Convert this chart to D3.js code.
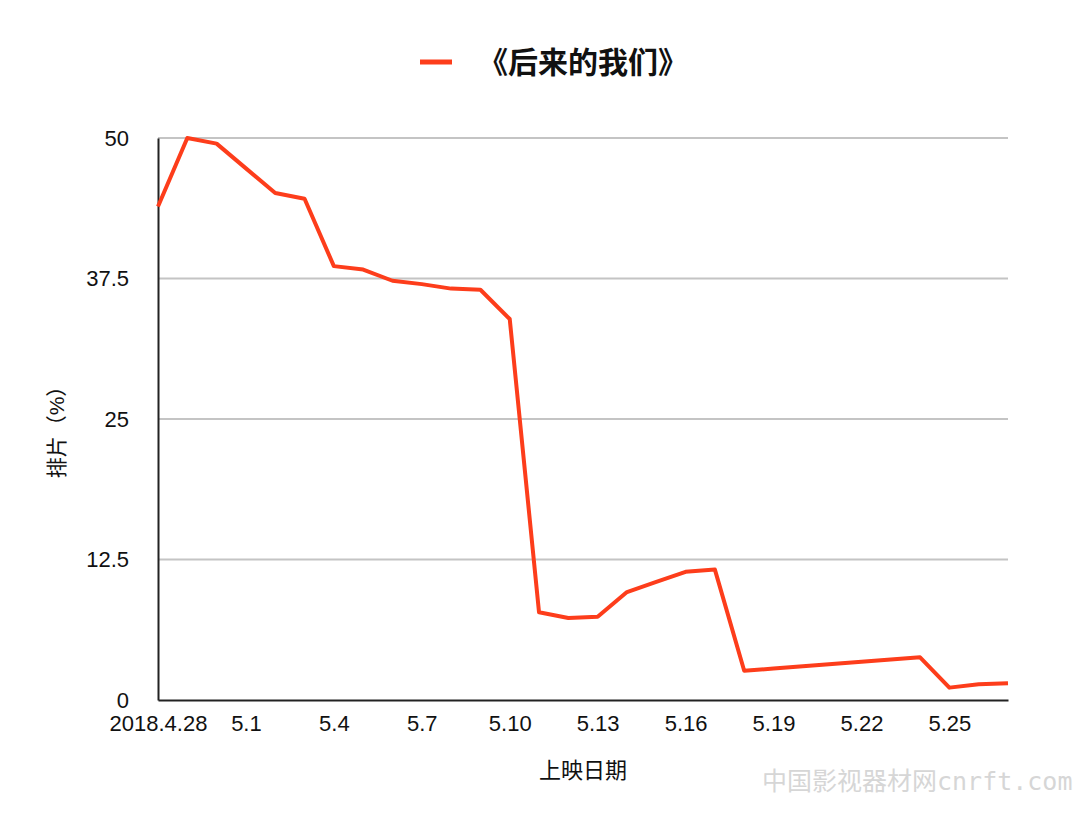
<!DOCTYPE html>
<html>
<head>
<meta charset="utf-8">
<script src="https://cdn.jsdelivr.net/npm/d3@7"></script>
<style>
  body { margin: 0; background: #fff; }
  svg { display: block; }
  text { font-family: "Liberation Sans", Arial, "Noto Sans CJK SC", sans-serif; }
</style>
</head>
<body>
<div id="chart"></div>
<script>
(function () {

    // series name and daily values (排片 %), 2018.4.28 - 5.27
    var seriesName = "《后来的我们》";
    var dates = ["2018.4.28", "4.29", "4.30", "5.1", "5.2", "5.3", "5.4", "5.5", "5.6", "5.7",
                 "5.8", "5.9", "5.10", "5.11", "5.12", "5.13", "5.14", "5.15", "5.16", "5.17",
                 "5.18", "5.19", "5.20", "5.21", "5.22", "5.23", "5.24", "5.25", "5.26", "5.27"];
    var values = [43.9, 50.0, 49.5, 47.3, 45.1, 44.6, 38.6, 38.3, 37.3, 37.0,
                  36.6, 36.5, 33.9, 7.8, 7.3, 7.4, 9.6, 10.5, 11.4, 11.6,
                  2.6, 2.8, 3.0, 3.2, 3.4, 3.6, 3.8, 1.1, 1.4, 1.5];
    var xTickLabels = ["2018.4.28", "5.1", "5.4", "5.7", "5.10", "5.13", "5.16", "5.19", "5.22", "5.25"];
    var yTicks = [0, 12.5, 25, 37.5, 50];

    var width = 1080, height = 827;
    var margin = { left: 158, right: 72, top: 138, bottom: 127 };
    var lineColor = "#fd3d1b";

    var svg = d3.select("#chart").append("svg")
        .attr("width", width)
        .attr("height", height);

    var x = d3.scalePoint()
        .domain(dates)
        .range([margin.left, width - margin.right]);

    var y = d3.scaleLinear()
        .domain([0, 50])
        .range([height - margin.bottom, margin.top]);

    //gridlines
    svg.append("g")
        .selectAll("line")
        .data(yTicks.filter(function (d) { return d > 0; }))
        .enter().append("line")
        .attr("x1", margin.left)
        .attr("x2", width - margin.right)
        .attr("y1", function (d) { return y(d); })
        .attr("y2", function (d) { return y(d); })
        .attr("stroke", "#c4c4c4")
        .attr("stroke-width", 2);

    //y axis
    var yAxis = svg.append("g")
        .attr("transform", "translate(" + margin.left + ",0)")
        .call(d3.axisLeft(y).tickValues(yTicks).tickSize(0).tickPadding(29)
            .tickFormat(function (d) { return String(d); }));
    yAxis.select(".domain").attr("stroke", "#222").attr("stroke-width", 2);
    yAxis.selectAll("text").attr("font-size", 22).attr("fill", "#111");

    //x axis
    var xAxis = svg.append("g")
        .attr("transform", "translate(0," + (height - margin.bottom) + ")")
        .call(d3.axisBottom(x).tickValues(xTickLabels).tickSize(0).tickPadding(15));
    xAxis.select(".domain").attr("stroke", "#222").attr("stroke-width", 2);
    xAxis.selectAll("text").attr("font-size", 22).attr("fill", "#111");

    //axis titles
    svg.append("text")
        .attr("x", 583)
        .attr("y", 778)
        .attr("text-anchor", "middle")
        .attr("font-size", 22)
        .attr("fill", "#111")
        .text("上映日期");

    svg.append("text")
        .attr("transform", "translate(64,427) rotate(-90)")
        .attr("text-anchor", "middle")
        .attr("font-size", 21)
        .attr("fill", "#111")
        .text("排片（%）");

    //the line
    var line = d3.line()
        .x(function (d, i) { return x(dates[i]); })
        .y(function (d) { return y(d); });

    svg.append("path")
        .datum(values)
        .attr("fill", "none")
        .attr("stroke", lineColor)
        .attr("stroke-width", 4)
        .attr("stroke-linejoin", "round")
        .attr("d", line);

    //legend
    svg.append("line")
        .attr("x1", 420).attr("x2", 452)
        .attr("y1", 62).attr("y2", 62)
        .attr("stroke", lineColor)
        .attr("stroke-width", 5);

    svg.append("text")
        .attr("x", 478)
        .attr("y", 73)
        .attr("font-size", 30)
        .attr("font-weight", "bold")
        .attr("fill", "#111")
        .text(seriesName);

    //watermark
    svg.append("text")
        .attr("x", 762)
        .attr("y", 790)
        .attr("font-size", 25)
        .attr("fill", "#d6d6d6")
        .style("font-family", "'DejaVu Sans Mono', 'Noto Sans CJK SC', monospace")
        .text("中国影视器材网cnrft.com");

})();
</script>
</body>
</html>
